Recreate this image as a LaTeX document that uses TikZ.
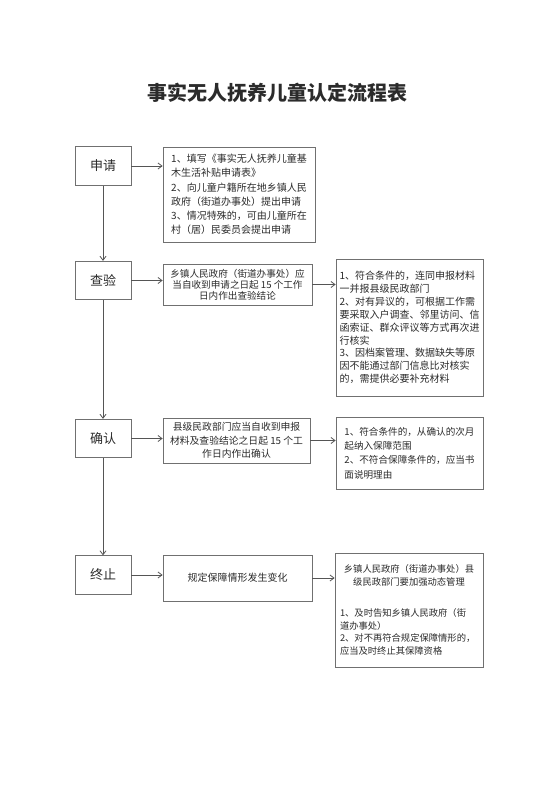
\documentclass[tikz,border=0pt]{standalone}
\usepackage{fontspec}
\setmainfont{Noto Sans CJK SC}
\usetikzlibrary{arrows.meta}
\definecolor{txt}{HTML}{2B2B2B}
\definecolor{bd}{HTML}{707070}
\definecolor{ln}{HTML}{555555}
\begin{document}
\begin{tikzpicture}[x=1pt,y=-1pt,
  box/.style={draw=bd, line width=0.7pt, inner sep=0pt, text=txt},
  lbox/.style={box, minimum width=56pt, minimum height=38.5pt, font=\fontsize{13}{15}\selectfont},
  conn/.style={draw=ln, line width=0.8pt, -{Straight Barb[length=4pt,width=6pt]}},
]
\useasboundingbox[fill=white] (0,0) rectangle (552,785);
\node[font=\fontsize{20}{24}\selectfont\bfseries, text=txt] (title) at (277,93) {事实无人抚养儿童认定流程表};

% left column
\node[lbox] (s1) at (103,166) {申请};
\node[lbox] (s2) at (103,280.5) {查验};
\node[lbox] (s3) at (103,438.5) {确认};
\node[lbox] (s4) at (103,575) {终止};

% middle column
\node[box, minimum width=152pt, minimum height=95pt, align=left,
      font=\fontsize{10}{14.2}\selectfont] (m1) at (239,194.5)
  {1、填写《事实无人抚养儿童基\\木生活补贴申请表》\\2、向儿童户籍所在地乡镇人民\\政府（街道办事处）提出申请\\3、情况特殊的，可由儿童所在\\村（居）民委员会提出申请};
\node[box, minimum width=149pt, minimum height=41pt, align=center,
      font=\fontsize{9.6}{11.2}\selectfont] (m2) at (237.5,284.5)
  {乡镇人民政府（街道办事处）应\\当自收到申请之日起 15 个工作\\日内作出查验结论};
\node[box, minimum width=147pt, minimum height=45pt, align=center,
      font=\fontsize{9.8}{13.3}\selectfont] (m3) at (236.5,440.5)
  {县级民政部门应当自收到申报\\材料及查验结论之日起 15 个工\\作日内作出确认};
\node[box, minimum width=149pt, minimum height=46pt, align=center,
      font=\fontsize{10}{12}\selectfont] (m4) at (237.5,578)
  {规定保障情形发生变化};

% right column
\node[box, minimum width=147pt, minimum height=137pt, align=left,
      font=\fontsize{10}{12.9}\selectfont] (r2) at (409.5,327.5)
  {1、符合条件的，连同申报材料\\一并报县级民政部门\\2、对有异议的，可根据工作需\\要采取入户调查、邻里访问、信\\函索证、群众评议等方式再次进\\行核实\\3、因档案管理、数据缺失等原\\因不能通过部门信息比对核实\\的，需提供必要补充材料};
\node[box, minimum width=147pt, minimum height=72pt, align=left,
      font=\fontsize{9.6}{14.3}\selectfont] (r3) at (409.5,453)
  {1、符合条件的，从确认的次月\\起纳入保障范围\\2、不符合保障条件的，应当书\\面说明理由};
\node[box, minimum width=148pt, minimum height=114pt, text width=138pt, align=left,
      font=\fontsize{9.3}{12.6}\selectfont] (r4) at (409,610)
  {\makebox[138pt]{乡镇人民政府（街道办事处）县}\\\makebox[138pt]{级民政部门要加强动态管理}\\[19pt]1、及时告知乡镇人民政府（街\\道办事处）\\2、对不再符合规定保障情形的，\\应当及时终止其保障资格};

% connectors
\draw[conn] (s1.south) -- (s2.north);
\draw[conn] (s2.south) -- (s3.north);
\draw[conn] (s3.south) -- (s4.north);
\draw[conn] (s1.east) -- (s1.east -| m1.west);
\draw[conn] (s2.east) -- (s2.east -| m2.west);
\draw[conn] (s3.east) -- (s3.east -| m3.west);
\draw[conn] (s4.east) -- (s4.east -| m4.west);
\draw[conn] (m2.east) -- (m2.east -| r2.west);
\draw[conn] (m3.east) -- (m3.east -| r3.west);
\draw[conn] (m4.east) -- (m4.east -| r4.west);
\end{tikzpicture}
\end{document}
